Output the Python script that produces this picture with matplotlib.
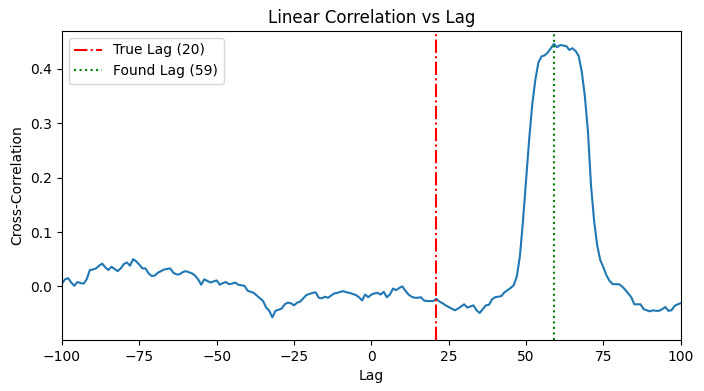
import numpy as np
import matplotlib
matplotlib.use("Agg")
import matplotlib.pyplot as plt

lags = np.arange(-100, 101)
corr = [
    0.005, 0.013, 0.015, 0.007, 0.001, 0.008, 0.006, 0.005, 0.013, 0.030,   # -100..-91
    0.031, 0.033, 0.038, 0.042, 0.035, 0.030, 0.036, 0.032, 0.028, 0.033,   # -90..-81
    0.041, 0.044, 0.038, 0.050, 0.046, 0.040, 0.033, 0.033, 0.024, 0.019,   # -80..-71
    0.020, 0.025, 0.028, 0.031, 0.032, 0.033, 0.025, 0.022, 0.022, 0.026,   # -70..-61
    0.028, 0.026, 0.024, 0.020, 0.013, 0.003, 0.013, 0.010, 0.007, 0.009,   # -60..-51
    0.011, 0.003, 0.006, 0.008, 0.004, 0.005, 0.007, 0.003, 0.002, 0.001,   # -50..-41
    -0.008, -0.010, -0.012, -0.017, -0.022, -0.027, -0.039, -0.045, -0.057, -0.045,  # -40..-31
    -0.043, -0.041, -0.033, -0.030, -0.031, -0.035, -0.030, -0.028, -0.022, -0.016,  # -30..-21
    -0.014, -0.012, -0.011, -0.021, -0.022, -0.019, -0.021, -0.017, -0.013, -0.012,  # -20..-11
    -0.010, -0.009, -0.011, -0.012, -0.014, -0.016, -0.020, -0.026, -0.015, -0.020,  # -10..-1
    -0.015,  # 0
    -0.013, -0.012, -0.015, -0.010, -0.020, -0.015, -0.004, -0.007, -0.003, 0.000,   # 1..10
    -0.008, -0.015, -0.019, -0.021, -0.021, -0.020, -0.026, -0.027, -0.027, -0.027,  # 11..20
    -0.023, -0.028, -0.031, -0.035, -0.038, -0.041, -0.044, -0.041, -0.037, -0.033,  # 21..30
    -0.039, -0.037, -0.035, -0.044, -0.049, -0.042, -0.035, -0.034, -0.024, -0.020,  # 31..40
    -0.019, -0.018, -0.011, -0.007, -0.003, 0.002, 0.018, 0.055, 0.120, 0.195,      # 41..50
    0.270, 0.335, 0.380, 0.412, 0.423, 0.425, 0.430, 0.438, 0.446, 0.440,           # 51..60
    0.444, 0.443, 0.442, 0.435, 0.438, 0.433, 0.424, 0.395, 0.350, 0.285,           # 61..70
    0.185, 0.120, 0.075, 0.048, 0.035, 0.020, 0.010, 0.004, 0.004, 0.004,           # 71..80
    0.000, -0.006, -0.013, -0.020, -0.033, -0.033, -0.033, -0.042, -0.044, -0.046,  # 81..90
    -0.044, -0.045, -0.045, -0.042, -0.038, -0.045, -0.044, -0.036, -0.033, -0.031, # 91..100
]

true_lag_label = 20
true_lag_pos = 21
found_lag = 59

fig = plt.figure(figsize=(7.04, 3.91), dpi=100)
ax = fig.add_axes([0.088, 0.130, 0.879, 0.791])
ax.plot(lags, corr, color="#1f77b4", lw=1.5)
ax.axvline(true_lag_pos, color="red", ls="-.", lw=1.5, label=f"True Lag ({true_lag_label})")
ax.axvline(found_lag, color="green", ls=":", lw=1.5, label=f"Found Lag ({found_lag})")
ax.set_xlim(-100, 100)
ax.set_ylim(-0.099, 0.470)
ax.set_yticks([0.0, 0.1, 0.2, 0.3, 0.4])
ax.set_title("Linear Correlation vs Lag")
ax.set_xlabel("Lag")
ax.set_ylabel("Cross-Correlation")
ax.legend(loc="upper left")
fig.savefig("out.png", dpi=100)
